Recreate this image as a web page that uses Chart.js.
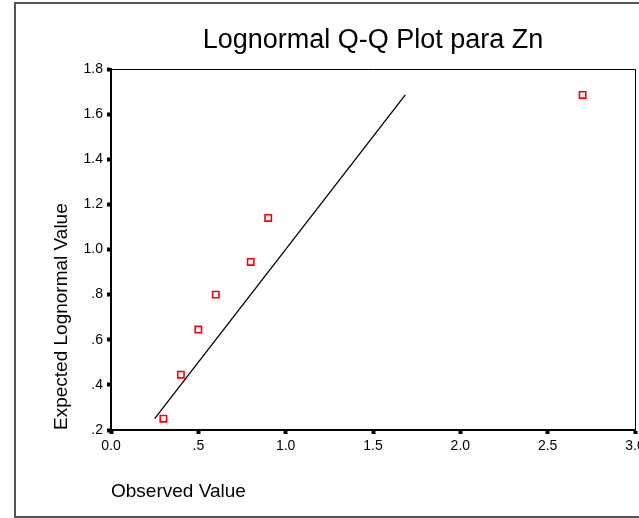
<!DOCTYPE html>
<html>
<head>
<meta charset="utf-8">
<script src="https://cdn.jsdelivr.net/npm/chart.js@4"></script>
<style>
  html, body { margin: 0; padding: 0; overflow: hidden; background: #fff; }
  canvas { display: block; }
</style>
</head>
<body>
<canvas id="grafica" width="660" height="518"></canvas>
<script>
// datos
let observed = [0.3, 0.4, 0.5, 0.6, 0.8, 0.9, 2.7];
let expected = [0.25, 0.445, 0.645, 0.80, 0.945, 1.14, 1.685];
let lineaX = [0.25, 1.685];
let lineaY = [0.25, 1.685];
let xTicks = ['0.0', '.5', '1.0', '1.5', '2.0', '2.5', '3.0'];
let yTicks = ['.2', '.4', '.6', '.8', '1.0', '1.2', '1.4', '1.6', '1.8'];

let fuente = 'Arial, "Liberation Sans", sans-serif';

// marco exterior y borde del area del grafico
let marco = {
    id: 'marco',
    beforeDraw(chart) {
        let ctx = chart.ctx;
        ctx.save();
        ctx.fillStyle = '#fff';
        ctx.fillRect(0, 0, chart.width, chart.height);
        ctx.strokeStyle = '#555';
        ctx.lineWidth = 2;
        ctx.strokeRect(15, 3, chart.width, 514);
        ctx.restore();
    },
    afterDatasetsDraw(chart) {
        let a = chart.chartArea;
        let ctx = chart.ctx;
        ctx.save();
        ctx.strokeStyle = '#000';
        ctx.lineWidth = 1;
        ctx.beginPath();
        ctx.moveTo(a.left, a.top + 0.5);
        ctx.lineTo(a.right + 0.5, a.top + 0.5);
        ctx.lineTo(a.right + 0.5, a.bottom);
        ctx.stroke();
        ctx.restore();
    }
};

let chart = new Chart(document.getElementById('grafica').getContext('2d'), {
    type: 'scatter',
    data: {
        datasets: [{
            label: 'Zn',
            data: observed.map((v, i) => ({ x: v, y: expected[i] })),
            pointStyle: 'rect',
            pointRadius: 4.5,
            pointBorderWidth: 1.6,
            borderColor: '#ff0000',
            backgroundColor: '#ffffff',
            showLine: false,
            order: 1
        }, {
            label: 'linea',
            data: lineaX.map((v, i) => ({ x: v, y: lineaY[i] })),
            showLine: true,
            borderColor: '#000',
            borderWidth: 1.3,
            pointRadius: 0,
            order: 2
        }]
    },
    options: {
        responsive: false,
        animation: false,
        layout: { padding: { left: 20, right: 25, top: 0, bottom: 1 } },
        plugins: {
            legend: { display: false },
            tooltip: { enabled: false },
            title: {
                display: true,
                fullSize: false,
                text: 'Lognormal Q-Q Plot para Zn',
                color: '#000',
                font: { family: fuente, size: 27, weight: 'normal' },
                padding: { top: 24, bottom: 12.6 }
            }
        },
        scales: {
            x: {
                type: 'linear',
                min: 0,
                max: 3,
                afterFit: s => { s.height = 87; },
                border: { color: '#000', width: 2 },
                grid: { drawOnChartArea: false, tickLength: 4, tickWidth: 4, tickColor: '#000' },
                ticks: {
                    stepSize: 0.5,
                    padding: 4,
                    color: '#000',
                    font: { family: fuente, size: 14 },
                    maxRotation: 0,
                    callback: (v, i) => xTicks[i]
                },
                title: {
                    display: true,
                    text: 'Observed Value',
                    align: 'start',
                    color: '#000',
                    font: { family: fuente, size: 19 },
                    padding: { top: 26, bottom: 13.6 }
                }
            },
            y: {
                type: 'linear',
                min: 0.2,
                max: 1.8,
                afterFit: s => { s.width = 91; },
                border: { color: '#000', width: 2 },
                grid: { drawOnChartArea: false, tickLength: 4, tickWidth: 4, tickColor: '#000' },
                ticks: {
                    stepSize: 0.2,
                    padding: 4,
                    color: '#000',
                    font: { family: fuente, size: 14 },
                    callback: (v, i) => yTicks[i]
                },
                title: {
                    display: true,
                    text: 'Expected Lognormal Value',
                    align: 'start',
                    color: '#000',
                    font: { family: fuente, size: 19 },
                    padding: { top: 30.6, bottom: 10 }
                }
            }
        }
    },
    plugins: [marco]
});
</script>
</body>
</html>
